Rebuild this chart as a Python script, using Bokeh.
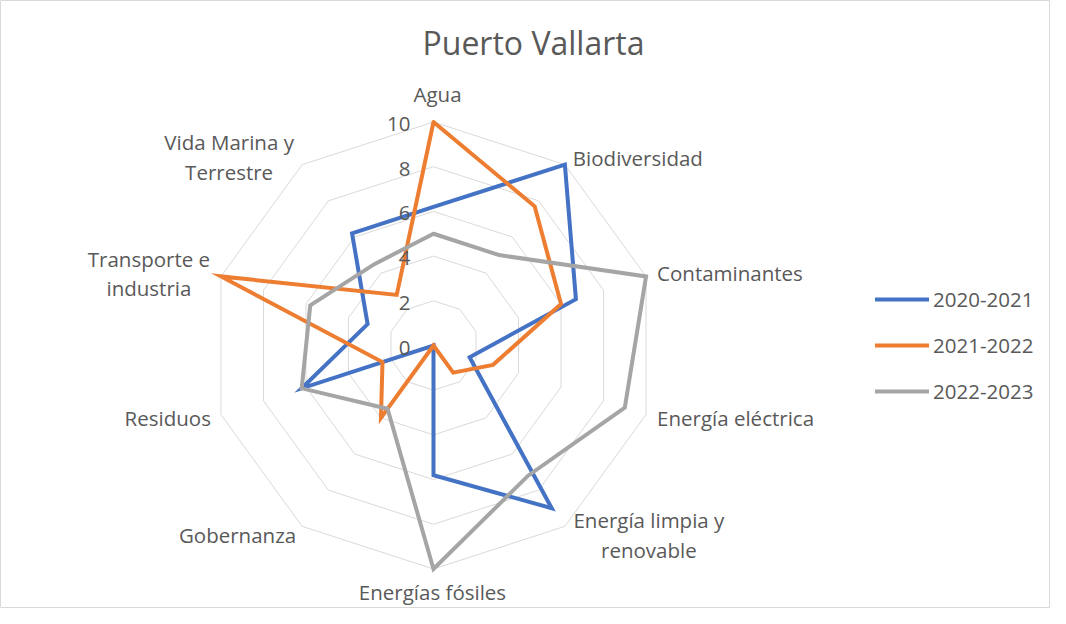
import numpy as np
from bokeh.plotting import figure
from bokeh.models import Range1d, Label, Legend, LegendItem
from bokeh.core.properties import value
from bokeh.embed import file_html
from bokeh.resources import INLINE

# ---------------- data ----------------
title_text = "Puerto Vallarta"
categories = ["Agua", "Biodiversidad", "Contaminantes", "Energía eléctrica",
              "Energía limpia y renovable", "Energías fósiles", "Gobernanza",
              "Residuos", "Transporte e industria", "Vida Marina y Terrestre"]
label_text = ["Agua", "Biodiversidad", "Contaminantes", "Energía eléctrica",
              "Energía limpia y\nrenovable", "Energías fósiles", "Gobernanza",
              "Residuos", "Transporte e\nindustria", "Vida Marina y\nTerrestre"]
series_names = ["2020-2021", "2021-2022", "2022-2023"]
s_2020_2021 = [6.2, 10, 6.7, 1.7, 9, 5.8, 0, 6.2, 3.1, 6.2]
s_2021_2022 = [10, 7.7, 6, 2.8, 1.5, 0, 4, 2.4, 10, 2.8]
s_2022_2023 = [5, 5, 10, 9, 7.2, 10, 3.5, 6.2, 5.8, 4.5]
tick_values = [0, 2, 4, 6, 8, 10]
tick_labels = ["0", "2", "4", "6", "8", "10"]

# ---------------- style ----------------
COLORS = ["#4472C4", "#ED7D31", "#A5A5A5"]
TEXT = "#595959"
GRID = "#D9D9D9"
FONT = "Open Sans"
W, H = 1050, 608
PX = 22.35            # pixels per unit
CX, CY = 433, 345     # centre of radar in figure pixels (from top-left)

# label placement: pixel offsets from the outer vertex (screen, down positive) and alignment
lab_dx = [4, 8, 11, 11, 84, -1, -6, -10, -72, -73]
lab_dy = [-28, -7, -3, 3.5, 8.5, 23, 9, 3, -3, -7.5]
lab_align = ["center", "left", "left", "left", "center", "center", "right", "right", "center", "center"]

n = len(categories)
ang = np.pi / 2 - 2 * np.pi * np.arange(n) / n
ang_c = np.append(ang, ang[0])

p = figure(width=W, height=H,
           x_range=Range1d(-CX / PX, (W - CX) / PX),
           y_range=Range1d(-(H - CY) / PX, CY / PX),
           output_backend="svg", toolbar_location=None, min_border=0,
           x_axis_location=None, y_axis_location=None)
p.grid.visible = False
p.outline_line_color = GRID
p.outline_line_width = 1
p.background_fill_color = "white"
p.border_fill_color = "white"

# grid decagons
gxs, gys = [], []
for t in tick_values[1:]:
    gxs.append(list(t * np.cos(ang_c)))
    gys.append(list(t * np.sin(ang_c)))
p.multi_line(gxs, gys, line_color=GRID, line_width=1)

# series
renderers = []
for vals, col in zip([s_2020_2021, s_2021_2022, s_2022_2023], COLORS):
    v = np.array(vals + [vals[0]], dtype=float)
    r = p.line(v * np.cos(ang_c), v * np.sin(ang_c), line_color=col, line_width=4,
               line_join="miter", line_cap="round")
    renderers.append(r)

# tick labels
p.text(x=[0] * len(tick_values), y=tick_values, text=tick_labels,
       x_offset=-23, y_offset=2, text_align="right", text_baseline="middle",
       text_font=value(FONT), text_font_size="20.5px", text_color=TEXT)

# category labels
R = max(tick_values)
for i in range(n):
    p.text(x=[R * np.cos(ang[i])], y=[R * np.sin(ang[i])], text=[label_text[i]],
           x_offset=lab_dx[i], y_offset=lab_dy[i], text_align=lab_align[i],
           text_baseline="middle", text_line_height=1.05,
           text_font=value(FONT), text_font_size="20.5px", text_color=TEXT)

# title
p.add_layout(Label(x=533, y=H - 42, x_units="screen", y_units="screen", text=title_text,
                   text_align="center", text_baseline="alphabetic",
                   text_font=FONT, text_font_size="32px", text_color=TEXT))

# legend
legend = Legend(items=[LegendItem(label=nm, renderers=[r]) for nm, r in zip(series_names, renderers)],
                location=(875, 203), orientation="vertical",
                glyph_width=54, glyph_height=20, label_height=20, spacing=18,
                label_standoff=4, padding=0, margin=0,
                label_text_font=FONT, label_text_font_size="20.5px", label_text_color=TEXT,
                border_line_color=None, background_fill_alpha=0)
p.add_layout(legend, "center")

open("out.html", "w").write(file_html(p, INLINE))
